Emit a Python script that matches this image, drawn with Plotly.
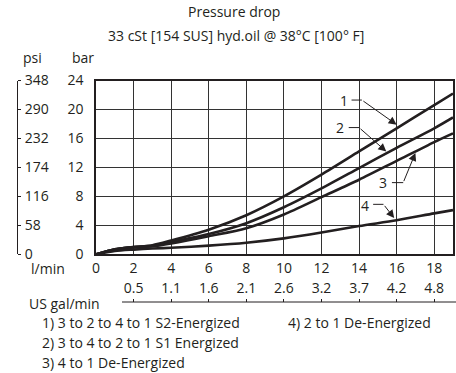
import plotly.graph_objects as go

# flow (l/min) and pressure drop (bar)
flow = [0, 1, 2, 3, 4, 6, 8, 10, 12, 14, 16, 18, 19]
drop_1 = [0, 0.7, 1.0, 1.25, 1.9, 3.4, 5.4, 8.0, 11.0, 14.2, 17.4, 20.6, 22.2]
drop_2 = [0, 0.7, 1.0, 1.15, 1.7, 2.8, 4.3, 6.5, 9.1, 11.9, 14.7, 17.4, 18.9]
drop_3 = [0, 0.65, 0.95, 1.1, 1.5, 2.5, 3.6, 5.5, 7.9, 10.3, 12.9, 15.5, 16.7]
drop_4 = [0, 0.45, 0.65, 0.8, 0.9, 1.2, 1.6, 2.2, 3.0, 3.9, 4.7, 5.65, 6.1]

lpm_ticks = [0, 2, 4, 6, 8, 10, 12, 14, 16, 18]
gpm_ticks = [2, 4, 6, 8, 10, 12, 14, 16, 18]
gpm_labels = ['0.5', '1.1', '1.6', '2.1', '2.6', '3.2', '3.7', '4.2', '4.8']
bar_ticks = [0, 4, 8, 12, 16, 20, 24]
psi_ticks = [0, 58, 116, 174, 232, 290, 348]

legend_lines = ['1) 3 to 2 to 4 to 1 S2-Energized',
                '2) 3 to 4 to 2 to 1 S1 Energized',
                '3) 4 to 1 De-Energized']
legend_right = '4) 2 to 1 De-Energized'

ink = '#231f20'
W, H = 456, 373
FONT = 'Open Sans'
FS = 14


def px(v):
    return v / W


def py(v):
    return 1 - v / H


fig = go.Figure()
for ys in [drop_1, drop_2, drop_3, drop_4]:
    fig.add_trace(go.Scatter(x=flow, y=ys, mode='lines',
                             line=dict(color=ink, width=2.6, shape='spline', smoothing=0.8),
                             showlegend=False, hoverinfo='skip'))

# empty traces so the overlaid gal/min and psi axes get drawn
fig.add_trace(go.Scatter(x=gpm_ticks, y=[None] * len(gpm_ticks), xaxis='x2', yaxis='y',
                         mode='none', showlegend=False, hoverinfo='skip'))
fig.add_trace(go.Scatter(x=lpm_ticks, y=[None] * len(lpm_ticks), xaxis='x', yaxis='y2',
                         mode='none', showlegend=False, hoverinfo='skip'))

# callouts: (label, label pos, elbow x0, x1, y, arrow tip) in data units
callouts = [
    ('1', (13.2, 21.2), (13.6, 14.15, 21.3), (16.0, 17.9)),
    ('2', (13.0, 17.5), (13.45, 14.0, 17.5), (15.45, 14.2)),
    ('3', (15.25, 9.9), (15.75, 16.35, 9.9), (17.0, 14.0)),
    ('4', (14.3, 6.7), (14.75, 15.3, 6.9), (15.87, 5.0)),
]
for lab, (lx, ly), (e0, e1, ey), (tx, ty) in callouts:
    fig.add_annotation(x=lx, y=ly, text=lab, showarrow=False, xref='x', yref='y',
                       font=dict(size=FS, color=ink))
    fig.add_shape(type='line', x0=e0, x1=e1, y0=ey, y1=ey, xref='x', yref='y',
                  line=dict(color=ink, width=1))
    fig.add_annotation(x=tx, y=ty, ax=e1, ay=ey, axref='x', ayref='y', xref='x', yref='y',
                       text='', showarrow=True, arrowhead=2, arrowsize=1.6, arrowwidth=1,
                       arrowcolor=ink)

# US gal/min scale line under the second row
fig.add_shape(type='line', x0=px(122), x1=px(456), y0=py(302), y1=py(302),
              xref='paper', yref='paper', line=dict(color=ink, width=1))

texts = [
    ('Pressure drop', 234, 11, 'center'),
    ('33 cSt [154 SUS] hyd.oil @ 38°C [100° F]', 236, 36, 'center'),
    ('psi', 32, 57, 'center'),
    ('bar', 83, 57, 'center'),
    ('l/min', 48, 268, 'center'),
    ('US gal/min', 64, 303, 'center'),
    (legend_right, 286, 322, 'left'),
]
for i, line in enumerate(legend_lines):
    texts.append((line, 40, 322 + 20 * i, 'left'))
for t, x, y, anc in texts:
    fig.add_annotation(x=px(x), y=py(y), xref='paper', yref='paper', text=t,
                       showarrow=False, xanchor=anc, yanchor='middle',
                       font=dict(size=FS, color=ink))

fig.update_layout(
    width=W, height=H,
    margin=dict(l=0, r=0, t=0, b=0, autoexpand=False),
    paper_bgcolor='white', plot_bgcolor='white',
    font=dict(family=FONT, size=FS, color=ink),
    xaxis=dict(domain=[px(96), px(453)], range=[0, 19], tickvals=lpm_ticks,
               showgrid=True, gridcolor='#333', gridwidth=1, zeroline=False,
               showline=True, linecolor=ink, linewidth=1.5, mirror=True,
               ticks='', ticklabelstandoff=0, tickfont=dict(size=FS)),
    xaxis2=dict(overlaying='x', range=[0, 19], anchor='free', position=py(302),
                side='top', tickvals=gpm_ticks, ticktext=gpm_labels, showgrid=False,
                zeroline=False, showline=False, ticks='outside', ticklen=3,
                tickcolor=ink, ticklabelstandoff=0, tickfont=dict(size=FS)),
    yaxis=dict(domain=[py(254.3), py(80.5)], range=[0, 24], tickvals=bar_ticks,
               showgrid=True, gridcolor='#333', gridwidth=1, zeroline=False,
               showline=True, linecolor=ink, linewidth=1.5, mirror=True,
               ticks='', ticklabelstandoff=8, tickfont=dict(size=FS)),
    yaxis2=dict(overlaying='y', anchor='free', position=px(17), side='right',
                range=[0, 348], tickvals=psi_ticks, showgrid=False, zeroline=False,
                showline=True, linecolor=ink, linewidth=1, ticks='outside', ticklen=3,
                tickcolor=ink, ticklabelstandoff=1, tickfont=dict(size=FS)),
)

# drop the browser's default body margin so the figure sits at the window corner
fig.write_html('out.html', config={'displayModeBar': False},
               post_script="document.body.style.margin='0px';")
